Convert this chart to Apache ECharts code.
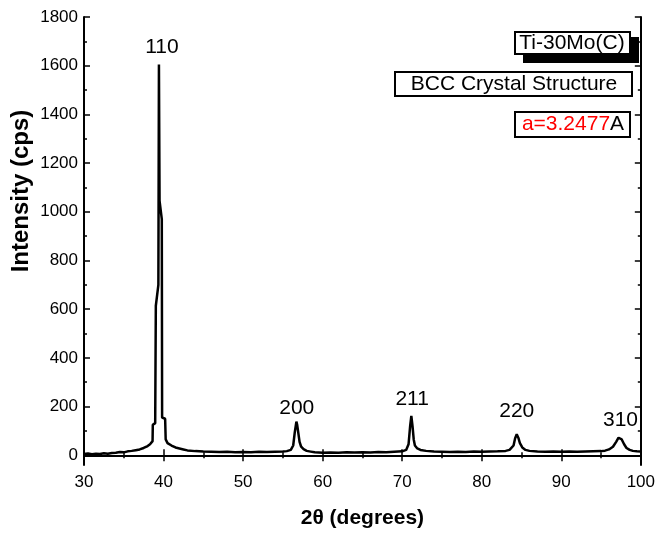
<!DOCTYPE html>
<html>
<head>
<meta charset="utf-8">
<script src="https://cdn.jsdelivr.net/npm/echarts@6/dist/echarts.min.js"></script>
<style>html,body{margin:0;padding:0;background:#fff;}#c{width:658px;height:534px;}</style>
</head>
<body>
<div id="c"></div>
<script>
// ---- data ----
const twoTheta = [30,30.5,31,31.5,32,32.5,33,33.5,34,34.5,35,35.5,36,36.5,37,37.5,38,38.3,38.5,38.62,38.65,38.95,39.03,39.35,39.42,39.5,39.78,39.82,40.2,40.27,40.5,41,41.5,42,42.5,43,44,45,46,47,48,49,50,51,52,53,54,55,55.5,56,56.3,56.5,56.7,56.8,56.95,57.1,57.3,57.6,58,58.5,59,60,61,62,63,64,65,66,67,68,69,70,70.5,70.8,71,71.15,71.3,71.45,71.6,71.9,72.3,73,74,75,76,77,78,79,80,81,82,83,83.5,84,84.2,84.4,84.6,84.8,85.1,85.5,86,87,88,89,90,91,92,93,94,95,95.5,96,96.5,96.9,97.2,97.35,97.6,97.9,98.2,98.6,99,99.5,100];
const intensity = [5,7,4,6,5,8,6,9,10,13,12,16,18,21,24,30,38,45,50,58,125,132,614,700,1605,1045,970,155,150,65,50,40,32,28,24,20,17,15,14,13,14,12,13,12,14,13,14,15,17,22,40,95,138,125,90,55,35,25,18,15,12,10,11,10,12,11,12,11,13,12,14,16,22,45,120,162,120,65,40,28,22,18,15,14,13,14,13,15,14,15,16,18,22,40,70,86,72,50,32,22,18,15,14,15,14,15,14,15,16,17,19,24,35,55,72,75,65,45,30,22,18,16,15];
const peakNames = ['110','200','211','220','310'];
const peakLabelX = [39.8,56.75,71.25,84.4,97.45];
const peakLabelY = [1675,192,231,180,145];
const xTicks = [30,40,50,60,70,80,90,100];
const yMajorTicks = [0,200,400,600,800,1000,1200,1400,1600,1800];
const yMinorTicks = [100,300,500,700,900,1100,1300,1500,1700];
const sampleName = 'Ti-30Mo(C)';
const structureText = 'BCC Crystal Structure';
const latticeValue = 'a=3.2477';
const latticeUnit = 'A';

const FONT = "'Liberation Sans', Arial, sans-serif";
const chart = echarts.init(document.getElementById('c'), null, {renderer:'canvas'});
const lineData = twoTheta.map((x,i)=>[x,intensity[i]]);
const labelData = peakNames.map((n,i)=>({name:n, value:[peakLabelX[i], peakLabelY[i]]}));

const yBase = {type:'value', min:-40, max:1800, splitLine:{show:false}};
const axLine = {show:true, lineStyle:{color:'#000', width:2}};
const plain = v => String(v);
chart.setOption({
  animation:false,
  backgroundColor:'#fff',
  grid:{left:84, right:14, top:17, bottom:67, containLabel:false},
  xAxis:[
    {type:'value', min:30, max:100, interval:10, position:'bottom',
     axisLine:axLine,
     axisTick:{show:true, inside:true, length:6, lineStyle:{color:'#000', width:1.5}},
     minorTick:{show:true, splitNumber:2, length:3, lineStyle:{color:'#000', width:1.5}},
     axisLabel:{show:true, margin:9, color:'#000', fontSize:17, fontFamily:FONT,
       customValues:xTicks, formatter:plain},
     splitLine:{show:false},
     name:'2θ (degrees)', nameLocation:'middle', nameGap:43,
     nameTextStyle:{color:'#000', fontSize:21, fontWeight:'bold', fontFamily:FONT}},
    {type:'value', min:30, max:100, interval:10, position:'top',
     axisLine:axLine,
     axisTick:{show:true, inside:true, length:6, lineStyle:{color:'#000', width:1.5}},
     minorTick:{show:true, splitNumber:2, length:3, lineStyle:{color:'#000', width:1.5}},
     axisLabel:{show:false}, splitLine:{show:false}}
  ],
  yAxis:[
    Object.assign({}, yBase, {position:'left', axisLine:axLine,
      axisTick:{show:true, inside:true, length:6, customValues:yMajorTicks, lineStyle:{color:'#000', width:1.5}},
      axisLabel:{show:true, margin:6, color:'#000', fontSize:17, fontFamily:FONT, customValues:yMajorTicks, formatter:plain}}),
    Object.assign({}, yBase, {position:'left', axisLine:{show:false},
      axisTick:{show:true, inside:true, length:3, customValues:yMinorTicks, lineStyle:{color:'#000', width:1.5}},
      axisLabel:{show:false}}),
    Object.assign({}, yBase, {position:'right', axisLine:axLine,
      axisTick:{show:true, inside:true, length:6, customValues:yMajorTicks, lineStyle:{color:'#000', width:1.5}},
      axisLabel:{show:false}}),
    Object.assign({}, yBase, {position:'right', axisLine:{show:false},
      axisTick:{show:true, inside:true, length:3, customValues:yMinorTicks, lineStyle:{color:'#000', width:1.5}},
      axisLabel:{show:false}})
  ],
  series:[
    {type:'line', xAxisIndex:0, yAxisIndex:0, data:lineData, showSymbol:false, symbol:'none',
     lineStyle:{color:'#000', width:2.5}, z:3},
    {type:'scatter', xAxisIndex:0, yAxisIndex:0, data:labelData, symbolSize:1,
     itemStyle:{color:'rgba(0,0,0,0)', opacity:1},
     label:{show:true, position:'inside', formatter:'{b}', color:'#000', opacity:1, fontSize:21, fontFamily:FONT}, z:4}
  ],
  graphic:[
    {type:'text', x:21, y:191, rotation:Math.PI/2,
     style:{text:'Intensity (cps)', fill:'#000', font:'bold 24px '+FONT, textAlign:'center', textVerticalAlign:'middle'}},
    {type:'rect', shape:{x:523, y:37, width:116, height:26}, style:{fill:'#000'}},
    {type:'rect', shape:{x:515, y:32, width:115, height:22}, style:{fill:'#fff', stroke:'#000', lineWidth:2}},
    {type:'text', x:572, y:43, style:{text:sampleName, fill:'#000', font:'21px '+FONT, textAlign:'center', textVerticalAlign:'middle'}},
    {type:'rect', shape:{x:395, y:72, width:237, height:24}, style:{fill:'#fff', stroke:'#000', lineWidth:2}},
    {type:'text', x:514, y:84, style:{text:structureText, fill:'#000', font:'21px '+FONT, textAlign:'center', textVerticalAlign:'middle'}},
    {type:'rect', shape:{x:515, y:112, width:115, height:25}, style:{fill:'#fff', stroke:'#000', lineWidth:2}},
    {type:'text', x:573, y:124.5, style:{text:'{r|'+latticeValue+'}{k|'+latticeUnit+'}', textAlign:'center', textVerticalAlign:'middle',
      rich:{r:{fill:'#ff0000', font:'21px '+FONT}, k:{fill:'#000', font:'21px '+FONT}}}}
  ]
});
</script>
</body>
</html>
